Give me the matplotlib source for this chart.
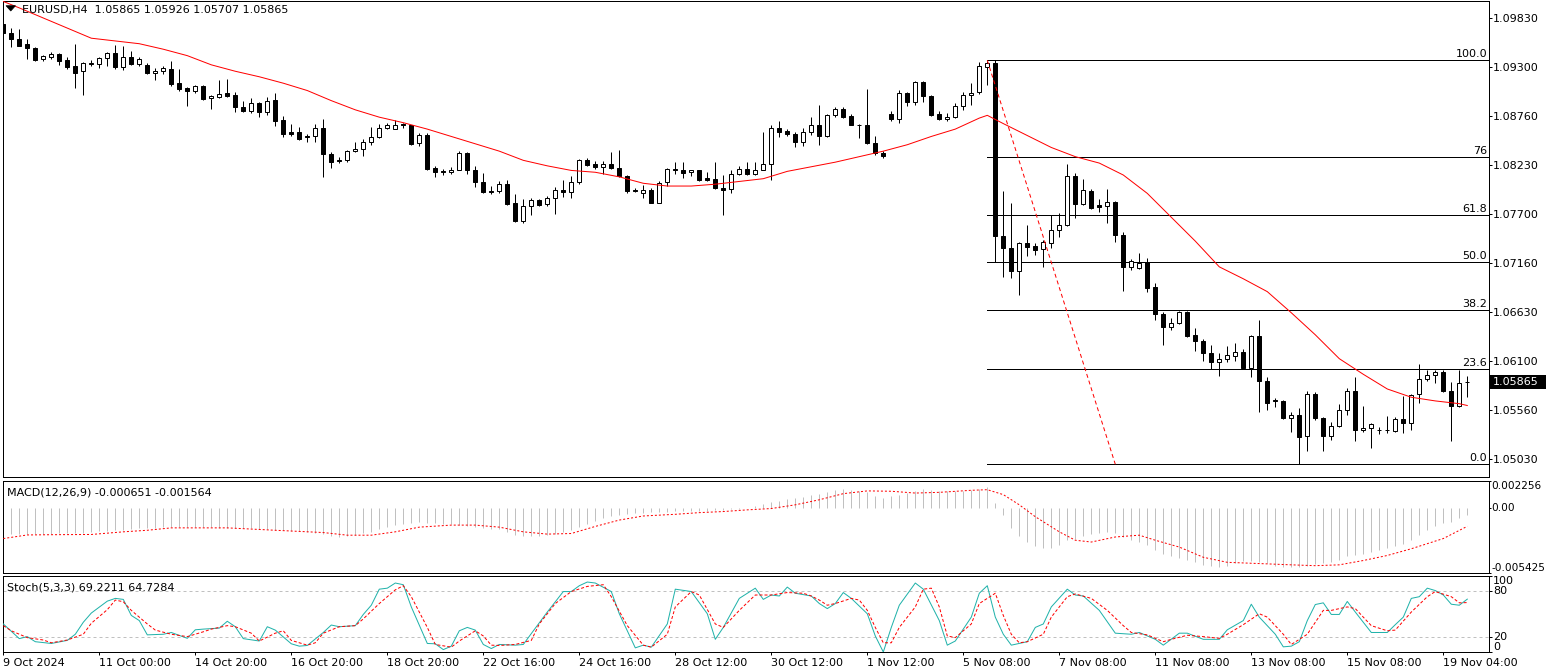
import matplotlib
matplotlib.use("Agg")
import matplotlib.pyplot as plt
import matplotlib.transforms as mtransforms
from matplotlib.patches import Rectangle, Polygon
import numpy as np

plt.rcParams['font.family'] = ['DejaVu Sans']
plt.rcParams['font.size'] = 8

# ---------------- data (EURUSD H4) ----------------
opens = [
 1.0976,1.0967,1.0960,1.0955,1.0950,1.0938,1.0941,1.0944,1.0937,1.0931,
 1.0925,1.0933,1.0933,1.0939,1.0945,1.0930,1.0941,1.0933,1.0932,1.0923,
 1.0925,1.0928,1.0912,1.0907,1.0903,1.0909,1.0896,1.0897,1.0901,1.0899,
 1.0886,1.0882,1.0890,1.0881,1.0894,1.0872,1.0859,1.0859,1.0854,1.0854,
 1.0863,1.0835,1.0828,1.0828,1.0838,1.0840,1.0848,1.0853,1.0863,1.0862,
 1.0868,1.0866,1.0847,1.0856,1.0820,1.0816,1.0815,1.0818,1.0836,1.0817,
 1.0804,1.0795,1.0795,1.0802,1.0781,1.0762,1.0778,1.0785,1.0780,1.0787,
 1.0796,1.0794,1.0804,1.0828,1.0824,1.0821,1.0824,1.0820,1.0811,1.0796,
 1.0792,1.0796,1.0782,1.0804,1.0819,1.0818,1.0815,1.0817,1.0809,1.0808,
 1.0798,1.0797,1.0813,1.0819,1.0813,1.0818,1.0824,1.0863,1.0860,1.0857,
 1.0848,1.0859,1.0867,1.0855,1.0877,1.0884,1.0876,1.0867,1.0867,1.0847,
 1.0836,1.0878,1.0873,1.0901,1.0891,1.0913,1.0898,1.0878,1.0873,1.0875,
 1.0887,1.0899,1.0902,1.0930,1.0934,1.0746,1.0733,1.0707,1.0738,1.0735,
 1.0731,1.0738,1.0752,1.0758,1.0811,1.0780,1.0795,1.0779,1.0778,1.0783,
 1.0747,1.0712,1.0711,1.0717,1.0690,1.0661,1.0646,1.0651,1.0663,1.0638,
 1.0631,1.0618,1.0608,1.0612,1.0615,1.0619,1.0602,1.0637,1.0588,1.05665,
 1.0566,1.0547,1.0551,1.0528,1.0574,1.0547,1.0528,1.0539,1.0556,1.0577,
 1.0534,1.0536,1.05345,1.0534,1.0533,1.0546,1.0542,1.0573,1.0590,1.0594,
 1.0597,1.0577,1.0561,1.05865]
highs = [
 1.0979,1.0972,1.0971,1.0960,1.0951,1.0943,1.0946,1.0945,1.0940,1.0955,
 1.0935,1.0937,1.0941,1.0946,1.0954,1.0952,1.0947,1.0940,1.0934,1.0929,
 1.0931,1.0936,1.0927,1.0908,1.0910,1.0910,1.0899,1.0915,1.0917,1.0902,
 1.0893,1.0896,1.0892,1.0897,1.0901,1.0876,1.0868,1.0864,1.0857,1.0868,
 1.0873,1.0837,1.0832,1.0839,1.0848,1.0851,1.0864,1.0868,1.0869,1.0872,
 1.0869,1.0867,1.0858,1.0858,1.0822,1.0819,1.0821,1.0838,1.0837,1.0822,
 1.0814,1.0800,1.0805,1.0807,1.0791,1.0786,1.0787,1.0786,1.0789,1.0799,
 1.0807,1.0811,1.0829,1.0830,1.0827,1.0827,1.0837,1.0839,1.0812,1.0798,
 1.0801,1.0798,1.0805,1.0820,1.0826,1.0826,1.0818,1.0818,1.0815,1.0826,
 1.0812,1.0817,1.0822,1.0826,1.0826,1.0859,1.0866,1.0871,1.0862,1.0859,
 1.0863,1.0875,1.0888,1.0878,1.0886,1.0886,1.0878,1.0868,1.0906,1.0855,
 1.0838,1.0882,1.0905,1.0902,1.0914,1.0914,1.0899,1.0882,1.0879,1.0890,
 1.0902,1.0912,1.0935,1.0936,1.0937,1.0795,1.0781,1.0739,1.0758,1.0738,
 1.0741,1.0768,1.0771,1.0824,1.0814,1.0808,1.0797,1.0786,1.0797,1.0784,
 1.0750,1.0721,1.0727,1.0722,1.0694,1.0663,1.0656,1.0664,1.0664,1.0645,
 1.0633,1.0627,1.0618,1.0626,1.0629,1.0622,1.0638,1.0654,1.0592,1.0569,
 1.0567,1.0554,1.0558,1.0577,1.0576,1.0549,1.0543,1.0563,1.0580,1.0592,
 1.0560,1.0542,1.0538,1.0550,1.0548,1.0571,1.0574,1.0606,1.0600,1.0600,
 1.0600,1.0587,1.0600,1.05926]
lows = [
 1.0966,1.0951,1.0952,1.0938,1.0936,1.0936,1.0938,1.0932,1.0927,1.0907,
 1.0899,1.0931,1.0929,1.0931,1.0927,1.0926,1.0932,1.0931,1.0922,1.0915,
 1.0922,1.0909,1.0904,1.0887,1.0901,1.0894,1.0884,1.0896,1.0897,1.0881,
 1.0881,1.0880,1.0875,1.0877,1.0865,1.0853,1.0855,1.0850,1.0848,1.0848,
 1.0810,1.0820,1.0825,1.0826,1.0837,1.0833,1.0845,1.0852,1.0862,1.0862,
 1.0863,1.0845,1.0844,1.0818,1.0810,1.0812,1.0813,1.0817,1.0813,1.0799,
 1.0792,1.0791,1.0792,1.0779,1.0761,1.0760,1.0768,1.0778,1.0778,1.0770,
 1.0788,1.0787,1.0802,1.0822,1.0819,1.0813,1.0819,1.0810,1.0792,1.0794,
 1.0787,1.0781,1.0781,1.0800,1.0813,1.0809,1.0811,1.0805,1.0805,1.0797,
 1.0768,1.0792,1.0812,1.0812,1.0812,1.0817,1.0807,1.0853,1.0854,1.0843,
 1.0844,1.0856,1.0845,1.0853,1.0875,1.0874,1.0866,1.0852,1.0846,1.0834,
 1.0831,1.0871,1.0869,1.0887,1.0888,1.0892,1.0876,1.0872,1.0871,1.0874,
 1.0883,1.0888,1.0900,1.0910,1.0717,1.0701,1.0700,1.0681,1.0724,1.0725,
 1.0712,1.0733,1.0745,1.0756,1.0765,1.0779,1.0775,1.0772,1.0760,1.0739,
 1.0686,1.0709,1.0710,1.0685,1.0654,1.0627,1.0643,1.0650,1.0636,1.0620,
 1.0610,1.0601,1.0593,1.0608,1.0610,1.0601,1.0592,1.0554,1.0556,1.0559,
 1.0546,1.0532,1.0497,1.0512,1.0545,1.0511,1.0523,1.0538,1.0551,1.0522,
 1.0532,1.0515,1.0530,1.0531,1.0532,1.0531,1.0534,1.0564,1.0588,1.0586,
 1.0576,1.0522,1.0559,1.05707]
closes = [
 1.0967,1.0960,1.0953,1.0950,1.0937,1.0942,1.0944,1.0936,1.0930,1.0923,
 1.0934,1.0934,1.0939,1.0945,1.0930,1.0941,1.0933,1.0938,1.0923,1.0925,
 1.0929,1.0911,1.0906,1.0903,1.0909,1.0895,1.0898,1.0900,1.0898,1.0886,
 1.0882,1.0890,1.0881,1.0893,1.0871,1.0857,1.0857,1.0851,1.0853,1.0863,
 1.0835,1.0826,1.0827,1.0838,1.0840,1.0848,1.0853,1.0863,1.0867,1.0867,
 1.0866,1.0846,1.0856,1.0819,1.0815,1.0815,1.0818,1.0836,1.0817,1.0804,
 1.0794,1.0794,1.0802,1.0780,1.0762,1.0778,1.0785,1.0779,1.0787,1.0796,
 1.0794,1.0804,1.0828,1.0823,1.0821,1.0824,1.0820,1.0811,1.0795,1.0795,
 1.0796,1.0782,1.0803,1.0819,1.0817,1.0814,1.0817,1.0807,1.0807,1.0798,
 1.0796,1.0813,1.0819,1.0813,1.0818,1.0824,1.0863,1.0859,1.0857,1.0848,
 1.0859,1.0867,1.0855,1.0877,1.0884,1.0875,1.0867,1.0867,1.0847,1.0836,
 1.0833,1.0873,1.0901,1.0891,1.0913,1.0898,1.0877,1.0873,1.0875,1.0887,
 1.0899,1.0901,1.0931,1.0934,1.0746,1.0733,1.0707,1.0738,1.0734,1.0730,
 1.0739,1.0752,1.0758,1.0811,1.0780,1.0796,1.0776,1.0777,1.0783,1.0747,
 1.0712,1.0718,1.0716,1.0689,1.0661,1.0646,1.0651,1.0663,1.0637,1.0631,
 1.0618,1.0608,1.0612,1.0616,1.0619,1.0602,1.0637,1.0588,1.0564,1.0566,
 1.0547,1.0551,1.0527,1.0574,1.0547,1.0528,1.0539,1.0556,1.0577,1.0534,
 1.0537,1.0541,1.0534,1.05345,1.0546,1.0542,1.0572,1.0590,1.0594,1.0597,
 1.0577,1.0561,1.0586,1.05865]

ma_bars = [0,2,5,8,11,14,17,20,23,26,29,32,35,38,41,44,47,50,53,56,59,62,65,68,71,74,
           77,80,83,86,89,92,95,98,101,104,107,110,113,116,119,122,123,125,128,131,134,
           137,140,143,146,149,152,155,158,161,164,167,170,173,176,179,182,183]
ma_values = [1.1001,1.0994,1.0983,1.0972,1.0961,1.0958,1.0955,1.0949,1.0942,1.0932,1.0925,
             1.0919,1.0912,1.0904,1.0893,1.0883,1.0875,1.0869,1.0862,1.0854,1.0846,1.0838,
             1.0828,1.0822,1.0817,1.0815,1.0810,1.0803,1.0800,1.0800,1.0802,1.0805,1.0808,
             1.0816,1.0821,1.0826,1.0832,1.0838,1.0845,1.0854,1.0862,1.0874,1.0877,1.0868,
             1.0855,1.0842,1.0832,1.0825,1.0812,1.0792,1.0766,1.0740,1.0712,1.0699,1.0685,
             1.0662,1.0638,1.0612,1.0595,1.0579,1.0570,1.0566,1.0563,1.0561]

fib_anchor_bars = [123, 139]
fib_anchor_prices = [1.09369, 1.04970]
fib_ratios = [0.0, 23.6, 38.2, 50.0, 61.8, 76.0, 100.0]
fib_labels = ["0.0", "23.6", "38.2", "50.0", "61.8", "76", "100.0"]

macd_hist = [
 -0.00216,-0.00218,-0.00220,-0.00220,-0.00218,-0.00216,-0.00216,-0.00214,-0.00214,-0.00212,
 -0.00208,-0.00203,-0.00197,-0.00193,-0.00188,-0.00183,-0.00178,-0.00174,-0.00172,-0.00168,
 -0.00165,-0.00162,-0.00160,-0.00160,-0.00162,-0.00164,-0.00165,-0.00166,-0.00168,-0.00170,
 -0.00172,-0.00174,-0.00178,-0.00182,-0.00186,-0.00190,-0.00194,-0.00198,-0.00203,-0.00210,
 -0.00220,-0.00235,-0.00245,-0.00240,-0.00228,-0.00212,-0.00200,-0.00180,-0.00160,-0.00145,
 -0.00135,-0.00128,-0.00123,-0.00125,-0.00130,-0.00134,-0.00138,-0.00145,-0.00155,-0.00163,
 -0.00170,-0.00177,-0.00182,-0.00205,-0.00230,-0.00236,-0.00238,-0.00238,-0.00232,-0.00220,
 -0.00205,-0.00188,-0.00160,-0.00135,-0.00109,-0.00090,-0.00072,-0.00058,-0.00050,-0.00045,
 -0.00042,-0.00038,-0.00035,-0.00033,-0.00031,-0.00030,-0.00029,-0.00028,-0.00025,-0.00022,
 -0.00019,-0.00014,-0.00008,-0.00003,0.00010,0.00028,0.00045,0.00058,0.00070,0.00080,
 0.00092,0.00104,0.00116,0.00130,0.00143,0.00155,0.00148,0.00138,0.00127,0.00100,
 0.00080,0.00094,0.00108,0.00125,0.00142,0.00158,0.00150,0.00142,0.00136,0.00138,
 0.00141,0.00144,0.00158,0.00172,0.00042,-0.00061,-0.00174,-0.00238,-0.00287,-0.00323,
 -0.00334,-0.00334,-0.00315,-0.00272,-0.00258,-0.00238,-0.00222,-0.00210,-0.00202,-0.00210,
 -0.00245,-0.00272,-0.00287,-0.00315,-0.00357,-0.00385,-0.00407,-0.00418,-0.00436,-0.00456,
 -0.00475,-0.00489,-0.00492,-0.00484,-0.00464,-0.00447,-0.00447,-0.00456,-0.00464,-0.00484,
 -0.00492,-0.00497,-0.00497,-0.00484,-0.00469,-0.00464,-0.00456,-0.00436,-0.00407,-0.00391,
 -0.00385,-0.00371,-0.00351,-0.00338,-0.00323,-0.00307,-0.00272,-0.00230,-0.00188,-0.00154,
 -0.00131,-0.00118,-0.00089,-0.00065]
signal_bars = [0,3,6,11,15,18,21,28,34,40,43,46,49,52,56,59,62,65,68,71,74,77,80,84,87,90,
               93,96,99,102,105,108,111,114,117,121,123,125,127,129,132,134,136,139,142,144,
               147,150,153,158,161,164,167,170,173,176,180,183]
signal_values = [-0.00258,-0.00228,-0.00226,-0.00224,-0.00202,-0.00189,-0.00169,-0.00169,
                 -0.00189,-0.00208,-0.00230,-0.00230,-0.00202,-0.00163,-0.00146,-0.00146,
                 -0.00163,-0.00202,-0.00221,-0.00216,-0.00157,-0.00104,-0.00070,-0.00056,
                 -0.00042,-0.00033,-0.00019,-0.00008,0.00023,0.00065,0.00116,0.00139,0.00136,
                 0.00121,0.00127,0.00144,0.00149,0.00108,0.00023,-0.00076,-0.00202,-0.00272,
                 -0.00287,-0.00245,-0.00230,-0.00272,-0.00329,-0.00414,-0.00456,-0.00469,
                 -0.00477,-0.00484,-0.00477,-0.00441,-0.00399,-0.00343,-0.00258,-0.00156]

stoch_k_bars = [0,2,3,4,6,8,9,10,11,13,14,15,16,17,18,20,21,23,24,25,27,28,29,30,32,33,34,36,
                37,38,40,41,42,44,45,46,47,48,49,50,51,53,54,55,56,57,58,59,60,61,62,64,65,66,
                68,70,71,72,73,74,76,77,79,80,81,83,84,86,88,89,90,92,94,95,96,97,98,99,101,
                102,103,104,105,106,108,109,110,111,112,114,115,117,118,119,121,122,123,124,
                125,126,128,129,130,131,133,134,135,137,139,141,142,144,145,147,148,150,152,
                153,155,156,157,159,160,161,162,163,164,165,166,167,168,169,171,173,174,175,
                176,177,178,179,180,181,182,183]
stoch_k_values = [36.9,17.8,20.4,13.8,11.5,15.5,23.5,39.1,51.1,66.6,70.2,68.9,48.0,41.3,22.7,
                  23.5,25.8,18.2,29.3,30.2,31.5,40.4,33.3,17.8,14.7,33.3,28.9,11.1,8.0,8.9,
                  25.8,35.5,33.3,34.7,49.3,61.3,82.2,83.5,90.2,88.0,59.1,11.5,11.1,3.5,8.0,
                  28.0,32.4,28.9,10.2,4.9,10.2,9.3,10.2,24.4,52.4,79.1,79.1,86.7,91.5,90.2,
                  79.1,50.2,5.8,9.3,6.7,36.9,82.2,79.1,50.2,16.9,32.4,70.2,83.5,68.9,74.6,
                  73.3,84.9,76.9,73.3,63.5,56.9,63.5,77.8,70.2,50.2,21.3,0.4,32.4,61.3,90.2,
                  82.2,41.3,9.3,14.7,45.8,76.9,86.7,45.8,23.5,9.3,13.8,32.4,36.9,59.1,82.2,
                  74.6,73.3,54.6,24.9,23.5,25.8,16.9,9.3,24.9,24.9,16.9,16.9,29.3,41.3,62.6,
                  45.8,23.5,7.1,8.0,13.8,41.3,62.2,64.4,49.3,49.3,66.2,52.4,25.8,25.8,36.0,
                  45.8,70.2,72.4,83.5,80.4,74.6,62.6,61.3,69.2211]
stoch_d_bars = [0,1,3,5,6,8,10,11,13,14,15,16,18,19,21,23,25,26,28,29,31,32,34,35,36,38,39,40,
                42,44,45,47,49,50,51,53,54,56,57,59,60,61,62,64,66,67,69,71,73,75,76,78,80,81,
                83,84,86,87,89,90,92,94,96,98,100,101,102,103,104,106,107,108,109,110,111,112,
                114,115,116,117,118,119,121,122,124,125,126,127,128,130,131,133,134,136,138,
                140,141,143,145,146,148,150,152,153,155,157,158,160,161,163,165,166,168,169,
                171,173,174,176,178,179,181,182,183]
stoch_d_values = [34.7,28.0,19.1,16.0,12.4,16.0,23.5,37.8,55.5,68.0,65.8,54.6,36.9,28.9,23.5,
                  20.4,26.7,30.2,34.7,33.3,24.9,14.7,24.9,28.0,15.5,9.3,12.4,24.9,33.3,34.7,
                  43.5,63.5,81.3,86.7,72.4,32.4,10.2,6.7,14.7,28.0,21.3,9.3,8.9,10.2,15.5,36.9,
                  63.5,79.1,85.8,88.0,72.4,34.7,9.3,6.7,23.5,59.1,79.1,74.6,36.9,32.4,54.6,
                  74.6,74.6,77.8,76.9,73.3,68.0,61.3,63.5,70.2,68.0,54.6,32.4,12.4,12.4,32.4,
                  59.1,82.2,83.5,59.1,21.3,19.1,36.9,63.5,76.9,48.0,23.5,12.4,13.8,23.5,45.8,
                  72.4,76.0,70.2,54.6,34.7,25.8,22.7,13.8,16.9,22.2,20.4,18.2,23.5,36.0,50.2,
                  45.8,23.5,10.2,23.5,54.6,54.6,59.1,56.9,34.7,28.0,28.9,52.4,72.4,79.1,72.4,
                  64.4,64.7284]

price_ticks = [1.09830, 1.09300, 1.08760, 1.08230, 1.07700, 1.07160, 1.06630, 1.06100,
               1.05560, 1.05030]
macd_ticks = [-0.005425, 0.0, 0.002256]
macd_tick_labels = ["-0.005425", "0.00", "0.002256"]
stoch_ticks = [0, 20, 80, 100]
stoch_levels = [20, 80]
date_tick_bars = list(range(0, 181, 12))
date_labels = ["9 Oct 2024", "11 Oct 00:00", "14 Oct 20:00", "16 Oct 20:00", "18 Oct 20:00",
               "22 Oct 16:00", "24 Oct 16:00", "28 Oct 12:00", "30 Oct 12:00", "1 Nov 12:00",
               "5 Nov 08:00", "7 Nov 08:00", "11 Nov 08:00", "13 Nov 08:00", "15 Nov 08:00",
               "19 Nov 04:00"]
last_price = 1.05865
title_text = "EURUSD,H4  1.05865 1.05926 1.05707 1.05865"
macd_text = "MACD(12,26,9) -0.000651 -0.001564"
stoch_text = "Stoch(5,3,3) 69.2211 64.7284"

# ---------------- layout ----------------
W, H = 1546, 671
fig = plt.figure(figsize=(W / 100, H / 100), dpi=100, facecolor='white')
PX = 0.72  # one pixel in points


def rect(x0, y0, x1, y1):
    return [x0 / W, 1 - y1 / H, (x1 - x0) / W, (y1 - y0) / H]


LEFT, RIGHT = 3, 1489
ax = fig.add_axes(rect(LEFT, 0.5, RIGHT, 477.3))
axm = fig.add_axes(rect(LEFT, 480.5, RIGHT, 572.7))
axs = fig.add_axes(rect(LEFT, 575.5, RIGHT, 652.3))

x0_bar = (LEFT - 3.3) / 8.0
x1_bar = (RIGHT - 3.3) / 8.0
for a in (ax, axm, axs):
    a.set_xlim(x0_bar, x1_bar)
    a.set_facecolor('white')
    for s in a.spines.values():
        s.set_color('black')
        s.set_linewidth(PX)

# ---------------- main price panel ----------------
ax.set_ylim(1.10026 - 0.0001089 * 477.3, 1.10026 - 0.0001089 * 0.5)
n = len(opens)
xs = np.arange(n)
o = np.array(opens); h = np.array(highs); l = np.array(lows); c = np.array(closes)
ax.vlines(xs, l, h, color='black', lw=PX, zorder=2)
up = c >= o
body_bottom = np.minimum(o, c)
body_h = np.abs(c - o)
ax.bar(xs, body_h, bottom=body_bottom, width=0.5,
       color=np.where(up, 'white', 'black'), edgecolor='black', linewidth=PX, zorder=3)

ax.plot(ma_bars, ma_values, color='red', lw=PX, zorder=4)

fib_hi, fib_lo = fib_anchor_prices[0], fib_anchor_prices[1]
for r, lab in zip(fib_ratios, fib_labels):
    p = fib_lo + r / 100.0 * (fib_hi - fib_lo)
    ax.plot([fib_anchor_bars[0], x1_bar], [p, p], color='black', lw=PX, zorder=1)
    ax.annotate(lab, xy=(1, p), xycoords=('axes fraction', 'data'), xytext=(-2, 3),
                textcoords='offset pixels', ha='right', va='baseline', fontsize=8, zorder=5)
ax.plot(fib_anchor_bars, fib_anchor_prices, color='red', lw=PX, ls=(0, (4, 3)), zorder=4)

ax.yaxis.tick_right()
ax.set_yticks(price_ticks)
ax.set_yticklabels([f"{t:.5f}" for t in price_ticks])
ax.tick_params(axis='y', direction='out', length=3 * PX, width=PX, pad=1 * PX, labelsize=8)
ax.set_xticks([])

# current price box
tr = mtransforms.blended_transform_factory(ax.transAxes, ax.transData)
box_w = (W - RIGHT) / (RIGHT - LEFT)
box_h = 7 * 0.0001089
ax.add_patch(Rectangle((1.0, last_price - box_h), box_w, 2 * box_h, transform=tr,
                       facecolor='black', edgecolor='none', clip_on=False, zorder=6))
ax.text(1.0 + 4 / (RIGHT - LEFT), last_price, f"{last_price:.5f}", transform=tr,
        color='white', ha='left', va='center', fontsize=8, zorder=7, clip_on=False)

# ---------------- MACD panel ----------------
axm.set_ylim(macd_ticks[0], macd_ticks[-1])
axm.vlines(xs, 0, macd_hist, color='#C0C0C0', lw=PX, zorder=2)
axm.plot(signal_bars, signal_values, color='red', lw=PX, ls=(0, (2, 2)), zorder=3)
axm.yaxis.tick_right()
axm.set_yticks(macd_ticks)
axm.set_yticklabels(macd_tick_labels)
axm.tick_params(axis='y', direction='out', length=2 * PX, width=PX, pad=0.5 * PX, labelsize=7.6)
axm.set_xticks([])
for t, va in zip(axm.yaxis.get_major_ticks(), ['bottom', 'center', 'top']):
    t.label2.set_verticalalignment(va)

# ---------------- Stochastic panel ----------------
axs.set_ylim(0, 100)
for lv in stoch_levels:
    axs.axhline(lv, color='#C0C0C0', lw=PX, ls=(0, (3, 3)), zorder=1)
axs.plot(stoch_k_bars, stoch_k_values, color='#20B2AA', lw=PX, zorder=3)
axs.plot(stoch_d_bars, stoch_d_values, color='red', lw=PX, ls=(0, (3, 2)), zorder=4)
axs.yaxis.tick_right()
axs.set_yticks(stoch_ticks)
axs.set_yticklabels([str(t) for t in stoch_ticks])
axs.tick_params(axis='y', direction='out', length=3 * PX, width=PX, pad=1 * PX, labelsize=8)
for t, va in zip(axs.yaxis.get_major_ticks(), ['bottom', 'center', 'center', 'top']):
    t.label2.set_verticalalignment(va)
axs.set_xticks(date_tick_bars)
axs.set_xticklabels(date_labels)
axs.tick_params(axis='x', direction='out', length=3 * PX, width=PX, pad=2.5 * PX, labelsize=8)
for lab in axs.get_xticklabels():
    lab.set_horizontalalignment('left')

# ---------------- header texts ----------------
fig.text(22 / W, 1 - 13 / H, title_text, ha='left', va='baseline', fontsize=8)
fig.add_artist(Polygon([(6 / W, 1 - 5.7 / H), (15.5 / W, 1 - 5.7 / H), (10.75 / W, 1 - 11 / H)],
                       closed=True, transform=fig.transFigure, facecolor='black',
                       edgecolor='black', lw=0.5))
fig.text(7.5 / W, 1 - 495.5 / H, macd_text, ha='left', va='baseline', fontsize=8)
fig.text(7.5 / W, 1 - 590.5 / H, stoch_text, ha='left', va='baseline', fontsize=8)

fig.savefig("out.png", dpi=100, facecolor='white')
